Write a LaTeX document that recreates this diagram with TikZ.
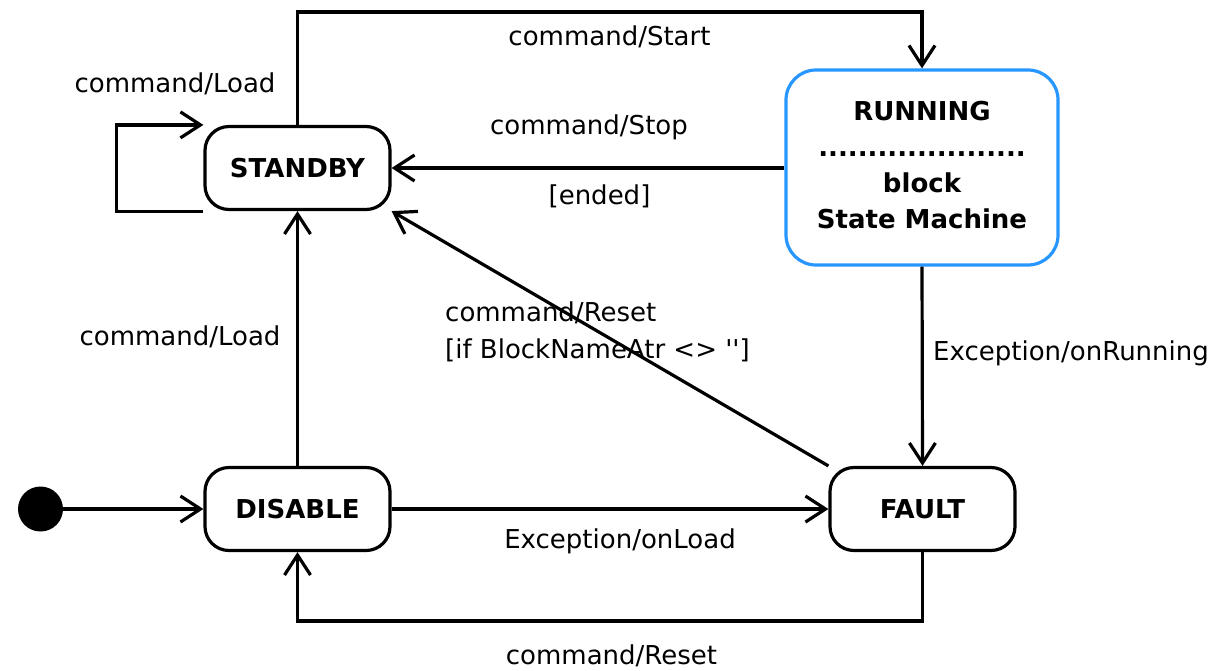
\documentclass[tikz,border=0pt]{standalone}
\usepackage{fontspec}
\newfontfamily\dvs{DejaVu Sans}
\usetikzlibrary{arrows.meta}
\definecolor{runblue}{RGB}{40,150,255}
\begin{document}
\begin{tikzpicture}[x=1pt,y=-1pt,
  every node/.style={font=\dvs\fontsize{26}{37}\selectfont},
  state/.style={draw,line width=3.2pt,rounded corners=24pt,minimum width=185pt,
    minimum height=83pt,inner sep=0pt,font=\dvs\bfseries\fontsize{26}{36}\selectfont},
  arr/.style={line width=3.2pt,-{Straight Barb[length=20pt,width=26pt]}},
  lbl/.style={inner sep=0pt}]
\useasboundingbox (0,0) rectangle (1222,670);
% states
\node[state] (standby) at (297.5,168) {STANDBY};
\node[state] (disable) at (297.5,509) {DISABLE};
\node[state] (fault) at (922.5,509) {FAULT};
\node[state,draw=runblue,rounded corners=30pt,minimum width=272pt,minimum height=195pt,
  align=center,text depth=6pt] (running) at (922,167.5)
  {RUNNING\\.....................\\block\\State Machine};
\node[circle,fill=black,minimum size=45pt,inner sep=0pt] (init) at (40.5,509) {};
% transitions
\draw[arr] (init) -- (disable);
\draw[arr] (standby.north) -- (standby.north |- 0,12) -| (running.north);
\draw[arr] (standby.south west) -- ++(-87,0) |- (standby.north west);
\draw[arr] (running.west |- standby.east) -- (standby.east);
\draw[arr] (disable.north) -- (standby.south);
\draw[arr] (fault.north west) -- (standby.south east);
\draw[arr] (running.south) -- (fault.north);
\draw[arr] (disable.east) -- (fault.west);
\draw[arr] (fault.south) -- (fault.south |- 0,621) -| (disable.south);
% labels
\node[lbl] (l1) at (609.5,37) {command/Start};
\node[lbl] (l2) at (175,84) {command/Load};
\node[lbl] (l3) at (589,127) {command/Stop};
\node[lbl] (l4) at (599.5,196) {[ended]};
\node[lbl] (l5) at (180,337) {command/Load};
\node[lbl,align=left,anchor=west] (l6) at (445,332) {command/Reset\\[0pt][if BlockNameAtr <> '']};
\node[lbl] (l7) at (1071,353) {Exception/onRunning};
\node[lbl] (l8) at (620,541) {Exception/onLoad};
\node[lbl] (l9) at (611.5,656) {command/Reset};
\end{tikzpicture}
\end{document}
